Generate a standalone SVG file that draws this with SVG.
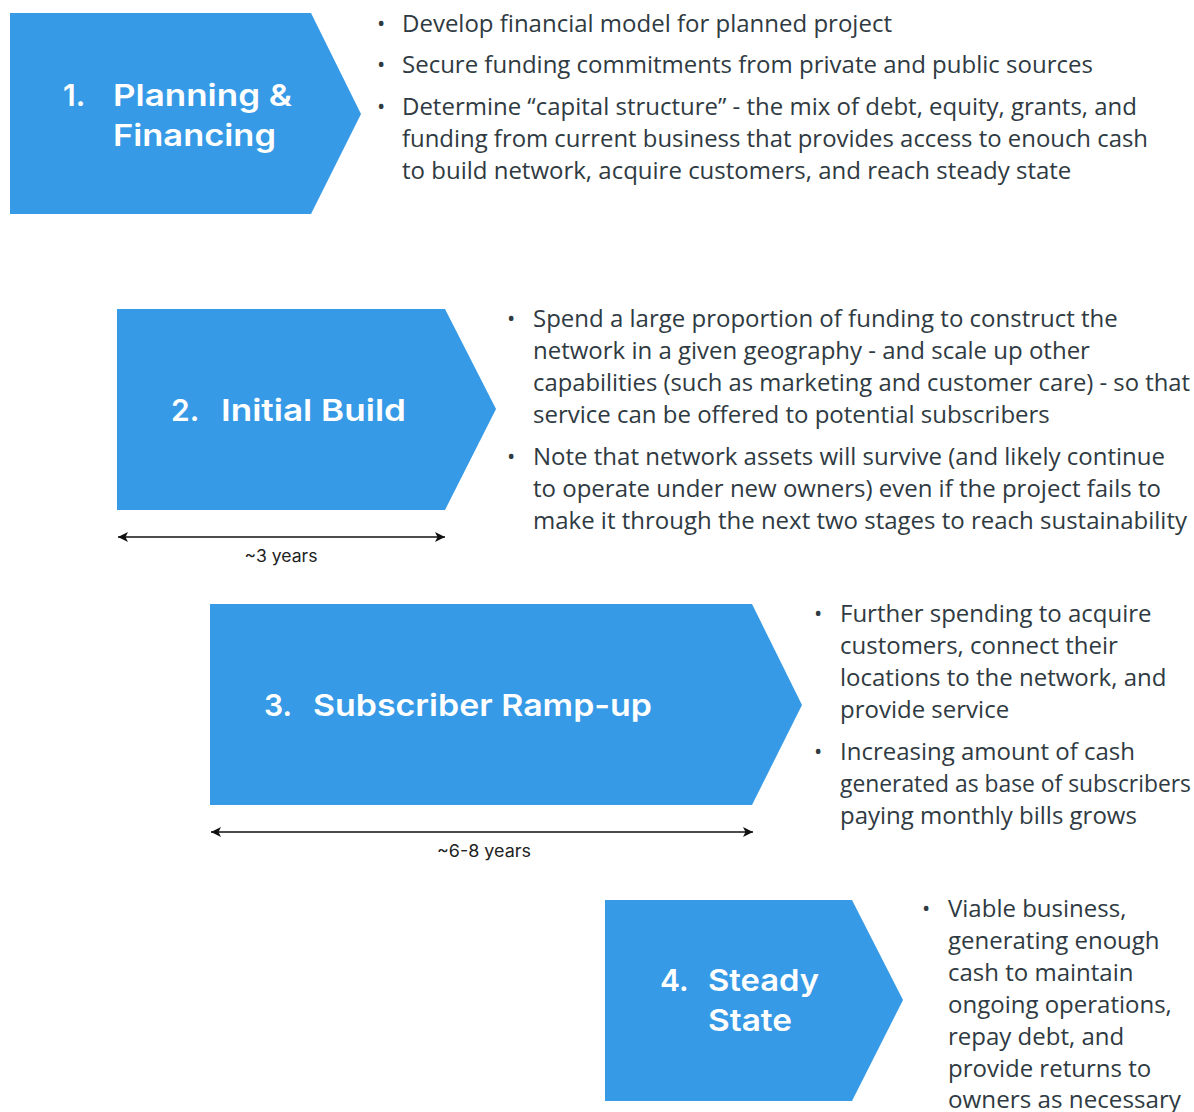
<svg xmlns="http://www.w3.org/2000/svg" width="1194" height="1112" viewBox="0 0 1194 1112">
  <style>
    .stage { fill: #379ae6; }
    .title { font-family: Inter, "Noto Sans", "Liberation Sans", sans-serif; font-weight: 600; font-size: 30px; fill: #ffffff; }
    .body { font-family: "Open Sans", "Noto Sans", "Liberation Sans", sans-serif; font-size: 24px; fill: #2f3a42; }
    .dot { font-family: "Open Sans", "Noto Sans", sans-serif; font-size: 22px; fill: #2f3a42; }
    .span { font-family: Inter, "Noto Sans", "Liberation Sans", sans-serif; font-size: 17px; fill: #222222; text-anchor: middle; }
    .dim { stroke: #111111; stroke-width: 1.5; fill: none; marker-start: url(#head); marker-end: url(#head); }
  </style>
  <defs>
    <marker id="head" viewBox="0 0 10 10" refX="10" refY="5" markerWidth="10" markerHeight="10" markerUnits="userSpaceOnUse" orient="auto-start-reverse">
      <path d="M0,0 L10,5 L0,10 L2.5,5 Z" fill="#111111"/>
    </marker>
  </defs>
  <rect width="1194" height="1112" fill="#ffffff"/>

  <!-- Stage 1 -->
  <g id="stage1">
    <polygon class="stage" points="10,13 311,13 361,114 311,214 10,214"/>
    <text class="title" x="63" y="106">1.</text>
    <text class="title" x="113" y="106" textLength="179" lengthAdjust="spacingAndGlyphs">Planning &amp;</text>
    <text class="title" x="113" y="146" textLength="163" lengthAdjust="spacingAndGlyphs">Financing</text>
    <text class="dot" x="377" y="31">•</text>
    <text class="body" x="402" y="32">Develop financial model for planned project</text>
    <text class="dot" x="377" y="72">•</text>
    <text class="body" x="402" y="73">Secure funding commitments from private and public sources</text>
    <text class="dot" x="377" y="114">•</text>
    <text class="body" x="402" y="115" textLength="735" lengthAdjust="spacingAndGlyphs">Determine “capital structure” - the mix of debt, equity, grants, and</text>
    <text class="body" x="402" y="147" textLength="746" lengthAdjust="spacingAndGlyphs">funding from current business that provides access to enouch cash</text>
    <text class="body" x="402" y="179">to build network, acquire customers, and reach steady state</text>
  </g>

  <!-- Stage 2 -->
  <g id="stage2">
    <polygon class="stage" points="117,309 445,309 496,409 445,510 117,510"/>
    <text class="title" x="171" y="421">2.</text>
    <text class="title" x="221" y="421" textLength="185" lengthAdjust="spacingAndGlyphs">Initial Build</text>
    <text class="dot" x="507" y="326">•</text>
    <text class="body" x="533" y="327">Spend a large proportion of funding to construct the</text>
    <text class="body" x="533" y="359">network in a given geography - and scale up other</text>
    <text class="body" x="533" y="391" textLength="657" lengthAdjust="spacingAndGlyphs">capabilities (such as marketing and customer care) - so that</text>
    <text class="body" x="533" y="423">service can be offered to potential subscribers</text>
    <text class="dot" x="507" y="464">•</text>
    <text class="body" x="533" y="465">Note that network assets will survive (and likely continue</text>
    <text class="body" x="533" y="497">to operate under new owners) even if the project fails to</text>
    <text class="body" x="533" y="529" textLength="654" lengthAdjust="spacingAndGlyphs">make it through the next two stages to reach sustainability</text>
  </g>

  <!-- Stage 3 -->
  <g id="stage3">
    <polygon class="stage" points="210,604 752,604 802,705 752,805 210,805"/>
    <text class="title" x="264" y="716">3.</text>
    <text class="title" x="313" y="716" textLength="339" lengthAdjust="spacingAndGlyphs">Subscriber Ramp-up</text>
    <text class="dot" x="814" y="621">•</text>
    <text class="body" x="840" y="622">Further spending to acquire</text>
    <text class="body" x="840" y="654">customers, connect their</text>
    <text class="body" x="840" y="686">locations to the network, and</text>
    <text class="body" x="840" y="718">provide service</text>
    <text class="dot" x="814" y="759">•</text>
    <text class="body" x="840" y="760">Increasing amount of cash</text>
    <text class="body" x="840" y="792" textLength="351" lengthAdjust="spacingAndGlyphs">generated as base of subscribers</text>
    <text class="body" x="840" y="824">paying monthly bills grows</text>
  </g>

  <!-- Stage 4 -->
  <g id="stage4">
    <polygon class="stage" points="605,900 852,900 903,1000 852,1101 605,1101"/>
    <text class="title" x="660" y="991">4.</text>
    <text class="title" x="708" y="991" textLength="111" lengthAdjust="spacingAndGlyphs">Steady</text>
    <text class="title" x="708" y="1031" textLength="84" lengthAdjust="spacingAndGlyphs">State</text>
    <text class="dot" x="922" y="916">•</text>
    <text class="body" x="948" y="917">Viable business,</text>
    <text class="body" x="948" y="949">generating enough</text>
    <text class="body" x="948" y="981">cash to maintain</text>
    <text class="body" x="948" y="1013">ongoing operations,</text>
    <text class="body" x="948" y="1045">repay debt, and</text>
    <text class="body" x="948" y="1077">provide returns to</text>
    <text class="body" x="948" y="1108" textLength="233" lengthAdjust="spacingAndGlyphs">owners as necessary</text>
  </g>

  <!-- Duration spans -->
  <g id="connectors">
    <line class="dim" x1="118" y1="537" x2="445" y2="537"/>
    <line class="dim" x1="211" y1="832" x2="753" y2="832"/>
  </g>
  <text class="span" x="281" y="562" textLength="73" lengthAdjust="spacingAndGlyphs">~3 years</text>
  <text class="span" x="484" y="857" textLength="94" lengthAdjust="spacingAndGlyphs">~6-8 years</text>
</svg>
